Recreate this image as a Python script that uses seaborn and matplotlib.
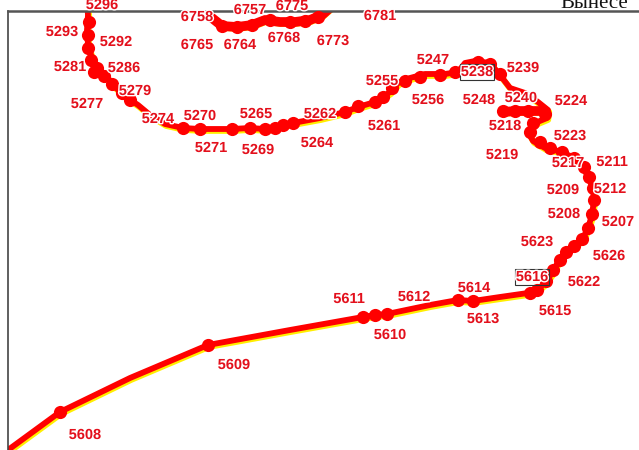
import matplotlib
matplotlib.use("Agg")
import matplotlib.pyplot as plt
import matplotlib.patheffects as pe
import seaborn as sns
import pandas as pd

# ---- data (pixel-space map coordinates) ----
path_x = [8, 60, 130, 208, 290, 363, 375, 387, 430, 458, 473, 500, 528, 537, 545, 552, 558, 565, 574, 583, 588, 592, 594, 593, 588, 583, 573, 558, 545, 533, 528, 535, 547, 548, 538, 525, 510, 500, 490, 475, 465, 458, 445, 425, 410, 398, 390, 383, 375, 358, 345, 320, 293, 283, 273, 265, 250, 232, 200, 183, 165, 150, 138, 126, 115, 107, 98, 92, 88, 87, 88, 87]
path_y = [450, 412, 378, 345, 330, 317, 315, 314, 305, 300, 301, 297, 293, 290, 283, 273, 262, 252, 246, 238, 228, 215, 200, 188, 177, 166, 157, 151, 148, 141, 132, 123, 118, 110, 102, 93, 88, 75, 63, 61, 63, 72, 74, 74, 78, 83, 92, 97, 102, 107, 112, 118, 123, 125, 128, 129, 128, 129, 129, 128, 124, 115, 105, 97, 87, 77, 68, 58, 45, 30, 15, 2]

top_x = [212, 222, 237, 252, 265, 280, 295, 310, 322, 332]
top_y = [18, 26, 27, 25, 20, 22, 22, 20, 15, 6]

branch_x = [503, 515, 528, 545]
branch_y = [112, 111, 111, 111]

dot_x = [60, 208, 363, 375, 387, 458, 473, 530, 537, 546, 553, 560, 566, 574, 582, 588, 592, 594, 593, 589, 584, 574, 562, 550, 540, 530, 533, 545, 503, 515, 528, 183, 200, 232, 250, 265, 275, 283, 293, 345, 358, 375, 383, 392, 405, 420, 440, 455, 478, 490, 500, 97, 91, 88, 88, 89, 94, 104, 112, 122, 130, 222, 237, 252, 270, 290, 305, 318]
dot_y = [412, 345, 317, 315, 314, 300, 301, 293, 290, 281, 270, 260, 252, 246, 239, 228, 214, 200, 188, 177, 167, 158, 152, 148, 142, 132, 123, 114, 111, 111, 111, 128, 129, 129, 128, 129, 128, 125, 123, 112, 106, 102, 97, 88, 81, 77, 75, 72, 62, 64, 74, 68, 60, 48, 35, 22, 72, 76, 84, 93, 100, 26, 27, 25, 20, 22, 21, 17]

labels = ["5296", "5293", "5292", "5281", "5286", "5279", "5277", "5274", "5270", "5271", "5269", "5265",
          "5264", "5262", "5261", "5255", "5256", "5247", "5238", "5239", "5248", "5240", "5224", "5218",
          "5219", "5223", "5217", "5211", "5209", "5212", "5208", "5207", "5623", "5626", "5616", "5622",
          "5615", "5614", "5613", "5612", "5611", "5610", "5609", "5608",
          "6758", "6757", "6775", "6781", "6765", "6764", "6768", "6773"]
label_x = [102, 62, 116, 70, 124, 135, 87, 158, 200, 211, 258, 256,
           317, 320, 384, 382, 428, 433, 477, 523, 479, 521, 571, 505,
           502, 570, 568, 612, 563, 610, 564, 618, 537, 609, 532, 584,
           555, 474, 483, 414, 349, 390, 234, 85,
           197, 250, 292, 380, 197, 240, 284, 333]
label_y = [5, 32, 42, 67, 68, 91, 104, 119, 116, 148, 150, 114,
           143, 114, 126, 81, 100, 60, 72, 68, 100, 98, 101, 126,
           155, 136, 163, 162, 190, 189, 214, 222, 242, 256, 277, 282,
           311, 288, 319, 297, 299, 335, 365, 435,
           17, 10, 6, 16, 45, 45, 38, 41]
boxed = ["5238", "5616"]

# ---- figure ----
W, H = 639, 450
fig = plt.figure(figsize=(W / 100, H / 100), dpi=100)
fig.patch.set_facecolor("white")
ax = fig.add_axes([8 / W, 0, 1 - 8 / W, (H - 11) / H])
ax.set_facecolor("white")
for s in ["bottom", "right"]:
    ax.spines[s].set_visible(False)
ax.spines["left"].set_color("#444444")
ax.spines["left"].set_linewidth(1.2)
ax.spines["top"].set_color("#555555")
ax.spines["top"].set_linewidth(1.8)

red = "#ff0000"
line_fx = [pe.Stroke(linewidth=4.4, foreground="#ffee00", offset=(0.8, -1.3)), pe.Normal()]

segs = [(path_x, path_y, 0), (top_x, top_y, 1), (branch_x, branch_y, 2)]
rows = []
for xs, ys, u in segs:
    for i, (a, b) in enumerate(zip(xs, ys)):
        rows.append({"x": a, "y": b, "seg": u, "order": i})
df = pd.DataFrame(rows)
for u, g in df.groupby("seg"):
    sns.lineplot(data=g, x="x", y="y", sort=False, estimator=None, ax=ax,
                 color=red, linewidth=4.2 if u == 0 else 7.0, legend=False,
                 path_effects=line_fx, solid_capstyle="round", solid_joinstyle="round")

dots = pd.DataFrame({"x": dot_x, "y": dot_y})
sns.scatterplot(data=dots, x="x", y="y", ax=ax, color=red, s=90, edgecolor=red,
                linewidth=0, legend=False, zorder=4)

ax.set_xlim(8, W)
ax.set_ylim(H, 11)
ax.set_xticks([])
ax.set_yticks([])
ax.set_xlabel("")
ax.set_ylabel("")

halo = [pe.withStroke(linewidth=2.0, foreground="white")]
for t, x, y in zip(labels, label_x, label_y):
    kw = {}
    if t in boxed:
        kw["bbox"] = dict(boxstyle="square,pad=0.08", facecolor="none", edgecolor="#333333", linewidth=0.8)
    ax.text(x, y, t, ha="center", va="center", fontsize=10.5, fontweight="bold",
            family="Liberation Sans", color="#e3101c", path_effects=halo,
            zorder=5, clip_on=False, **kw)

fig.text(560 / W, 1 - 8 / H, "Вынесе", ha="left", va="baseline",
         fontsize=15, family="Liberation Serif", color="#111111")

fig.savefig("out.png", dpi=100, facecolor="white")
